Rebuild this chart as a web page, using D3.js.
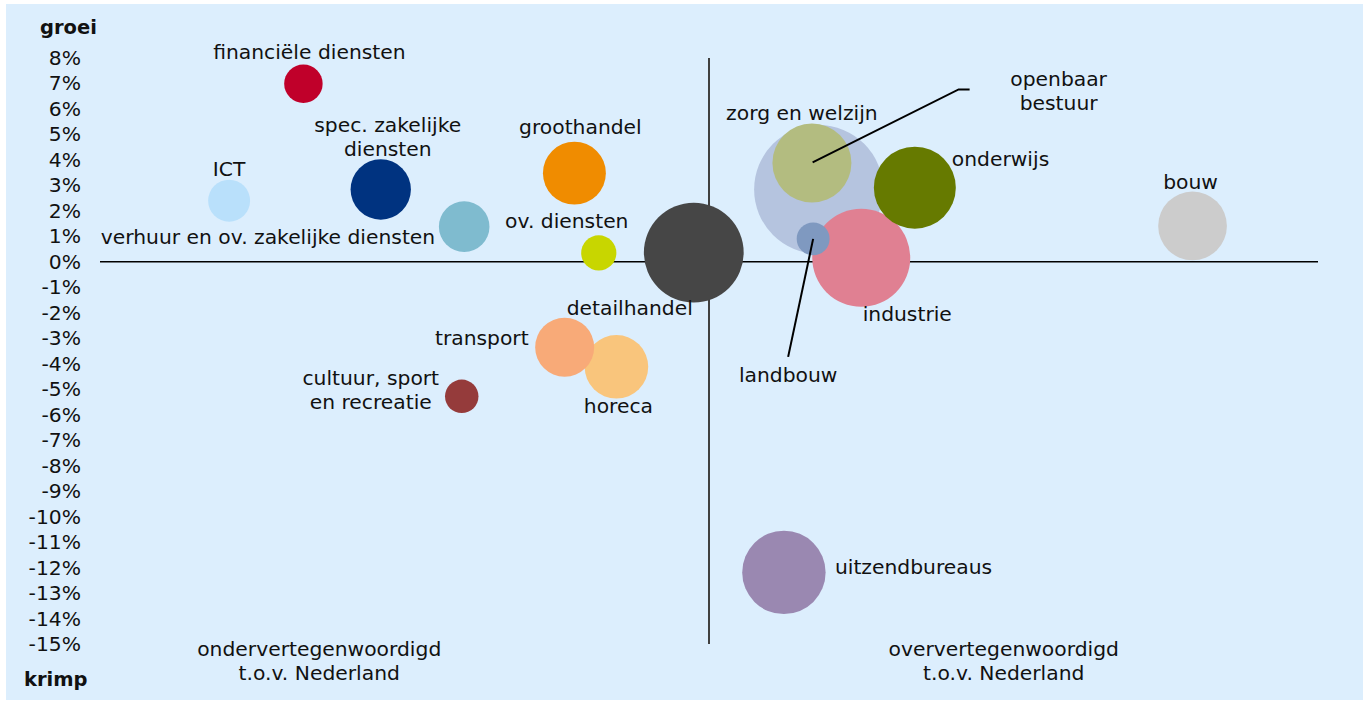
<!DOCTYPE html>
<html>
<head>
<meta charset="utf-8">
<script src="https://cdn.jsdelivr.net/npm/d3@7"></script>
<style>
  body { margin: 0; background: #fff; }
  text { font-family: 'DejaVu Sans', Verdana, sans-serif; fill: #111; }
</style>
</head>
<body>
<svg></svg>
<script>
// sectors, drawn in this order (later ones on top)
const sectors = ["openbaar bestuur", "zorg en welzijn", "industrie", "landbouw", "onderwijs", "bouw",
  "uitzendbureaus", "detailhandel", "financiële diensten", "ICT", "spec. zakelijke diensten",
  "verhuur en ov. zakelijke diensten", "groothandel", "ov. diensten", "horeca", "transport",
  "cultuur, sport en recreatie"];
// representation index vs Nederland (1 = equal)
const representation = [1.180, 1.169, 1.250, 1.171, 1.338, 1.794,
  1.123, 0.975, 0.334, 0.212, 0.461,
  0.598, 0.779, 0.819, 0.848, 0.763,
  0.594];
// job growth in %
const growth = [2.84, 3.88, 0.16, 0.90, 2.91, 1.41,
  -12.19, 0.36, 6.99, 2.40, 2.84,
  1.38, 3.48, 0.35, -4.12, -3.35,
  -5.28];
// employment size (bubble area)
const jobs = [416, 156, 240, 27, 168, 118,
  174, 249, 37, 44, 91,
  64, 99, 31, 101, 87,
  28];
const yTicks = [8, 7, 6, 5, 4, 3, 2, 1, 0, -1, -2, -3, -4, -5, -6, -7, -8, -9, -10, -11, -12, -13, -14, -15];

const colors = ["#b5c4df", "#b3bc80", "#e08092", "#7f99c0", "#667a00", "#cccccc",
  "#9a88b1", "#464646", "#c0002a", "#b9e0fb", "#003380",
  "#7fbbcf", "#f08c00", "#c8d600", "#f9c57c", "#f8aa78",
  "#953b3b"];

// label text lines + offset from bubble centre, anchor
const labels = {
  "openbaar bestuur": { lines: ["openbaar", "bestuur"], dx: 240, dy: -103, anchor: "middle" },
  "zorg en welzijn": { lines: ["zorg en welzijn"], dx: -10, dy: -43, anchor: "middle" },
  "industrie": { lines: ["industrie"], dx: 46, dy: 63, anchor: "middle" },
  "landbouw": { lines: ["landbouw"], dx: -25, dy: 143, anchor: "middle" },
  "onderwijs": { lines: ["onderwijs"], dx: 37, dy: -22, anchor: "start" },
  "bouw": { lines: ["bouw"], dx: -2, dy: -37, anchor: "middle" },
  "uitzendbureaus": { lines: ["uitzendbureaus"], dx: 51, dy: 2, anchor: "start" },
  "detailhandel": { lines: ["detailhandel"], dx: -64, dy: 62, anchor: "middle" },
  "financiële diensten": { lines: ["financiële diensten"], dx: 6, dy: -25, anchor: "middle" },
  "ICT": { lines: ["ICT"], dx: 0, dy: -25, anchor: "middle" },
  "spec. zakelijke diensten": { lines: ["spec. zakelijke", "diensten"], dx: 7, dy: -57, anchor: "middle" },
  "verhuur en ov. zakelijke diensten": { lines: ["verhuur en ov. zakelijke diensten"], dx: -29, dy: 17, anchor: "end" },
  "groothandel": { lines: ["groothandel"], dx: 6, dy: -39, anchor: "middle" },
  "ov. diensten": { lines: ["ov. diensten"], dx: -32, dy: -25, anchor: "middle" },
  "horeca": { lines: ["horeca"], dx: 2, dy: 46, anchor: "middle" },
  "transport": { lines: ["transport"], dx: -36, dy: -2, anchor: "end" },
  "cultuur, sport en recreatie": { lines: ["cultuur, sport", "en recreatie"], dx: -91, dy: -11, anchor: "middle" }
};
// leader lines, points relative to bubble centre
const leaders = {
  "openbaar bestuur": [[-6, -27], [140, -100], [151, -100]],
  "landbouw": [[0, 0], [-25, 118]]
};

const data = sectors.map((s, i) => ({ name: s, x: representation[i], y: growth[i], size: jobs[i], color: colors[i] }));

const W = 1366, H = 702;
const fontSize = 20.3;

const x = d3.scaleLinear().domain([0, 2]).range([100, 1318]);
const y = d3.scaleLinear().domain([-15, 8]).range([644, 58]);
const r = d3.scaleSqrt().domain([0, 500]).range([0, 70.7]);

const svg = d3.select('svg').
  attr('width', W).
  attr('height', H);

svg.append('rect').
  attr('x', 6).attr('y', 4).
  attr('width', 1357).attr('height', 696).
  attr('fill', '#dceefd');

// Y axis (labels only)
const yAxis = d3.axisLeft(y).
  tickValues(yTicks).
  tickSize(0).
  tickPadding(0).
  tickFormat(d => d + '%');

svg.append('g').
  attr('transform', 'translate(81,0)').
  call(yAxis).
  call(g => g.select('.domain').remove()).
  selectAll('text').
  attr('font-family', "'DejaVu Sans', sans-serif").
  attr('font-size', fontSize).
  attr('fill', '#111');

// axis titles
svg.append('text').attr('x', 40).attr('y', 34).
  attr('font-weight', 'bold').attr('font-size', 19.5).text('groei');
svg.append('text').attr('x', 24).attr('y', 686).
  attr('font-weight', 'bold').attr('font-size', 19.5).text('krimp');

// quadrant lines
svg.append('line').
  attr('x1', x(1)).attr('x2', x(1)).
  attr('y1', y(8)).attr('y2', y(-15)).
  attr('stroke', '#404040').attr('stroke-width', 2);
svg.append('line').
  attr('x1', x(0)).attr('x2', x(2)).
  attr('y1', y(0)).attr('y2', y(0)).
  attr('stroke', '#000').attr('stroke-width', 1.5);

// bubbles
svg.append('g').
  selectAll('circle').
  data(data).
  enter().append('circle').
  attr('cx', d => x(d.x)).
  attr('cy', d => y(d.y)).
  attr('r', d => r(d.size)).
  attr('fill', d => d.color);

// leader lines
const line = d3.line();
data.filter(d => leaders[d.name]).forEach(d => {
  const pts = leaders[d.name].map(p => [x(d.x) + p[0], y(d.y) + p[1]]);
  svg.append('path').
    attr('d', line(pts)).
    attr('fill', 'none').
    attr('stroke', '#000').
    attr('stroke-width', 2);
});

// labels
const lab = svg.append('g').
  selectAll('text').
  data(data).
  enter().append('text').
  attr('font-size', fontSize).
  attr('text-anchor', d => labels[d.name].anchor).
  attr('x', d => x(d.x) + labels[d.name].dx).
  attr('y', d => y(d.y) + labels[d.name].dy);

lab.each(function (d) {
  const t = d3.select(this);
  labels[d.name].lines.forEach((l, i) => {
    t.append('tspan').
      attr('x', x(d.x) + labels[d.name].dx).
      attr('dy', i === 0 ? 0 : 24).
      text(l);
  });
});

// quadrant notes
const notes = [
  { lines: ["ondervertegenwoordigd", "t.o.v. Nederland"], cx: x(0.36) },
  { lines: ["oververtegenwoordigd", "t.o.v. Nederland"], cx: x(1.484) }
];
notes.forEach(n => {
  const t = svg.append('text').
    attr('font-size', fontSize).
    attr('text-anchor', 'middle').
    attr('y', 656);
  n.lines.forEach((l, i) => {
    t.append('tspan').attr('x', n.cx).attr('dy', i === 0 ? 0 : 24).text(l);
  });
});
</script>
</body>
</html>
